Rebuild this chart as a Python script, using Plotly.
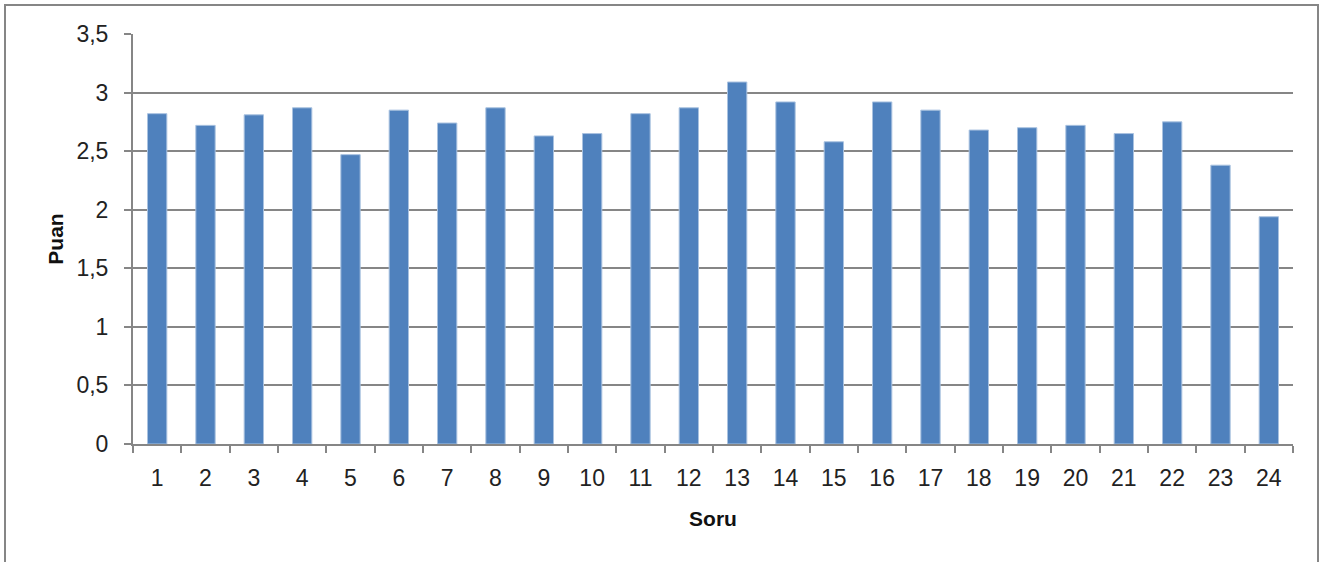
import plotly.graph_objects as go

# Ortalama puan per question (Soru 1..24)
sorular = [str(i) for i in range(1, 25)]
puanlar = [2.82, 2.72, 2.81, 2.87, 2.47, 2.85, 2.74, 2.87, 2.63, 2.65,
           2.82, 2.87, 3.09, 2.92, 2.58, 2.92, 2.85, 2.68, 2.70, 2.72,
           2.65, 2.75, 2.38, 1.94]
y_ticks = [0, 0.5, 1, 1.5, 2, 2.5, 3, 3.5]

GRID = "#868686"
FONT = "Liberation Sans"

fig = go.Figure(
    go.Bar(
        x=sorular,
        y=puanlar,
        marker=dict(color="#4F81BD", line=dict(color="#A9C2E0", width=1)),
    )
)

W, H = 1322, 562
L, R, T, B = 133, 29, 34, 118
pw, ph = W - L - R, H - T - B

fig.update_layout(
    width=W,
    height=H,
    margin=dict(l=L, r=R, t=T, b=B),
    paper_bgcolor="white",
    plot_bgcolor="white",
    separators=",.",
    bargap=0.6,
    showlegend=False,
    font=dict(family=FONT, size=23, color="#222222"),
    xaxis=dict(
        type="category",
        tickson="boundaries",
        ticks="outside",
        ticklen=7,
        tickwidth=2,
        tickcolor=GRID,
        showline=True,
        linecolor=GRID,
        linewidth=2,
        showgrid=False,
        ticklabelstandoff=12,
        title=dict(text="<b>Soru</b>", font=dict(size=21, color="#111111"), standoff=22),
    ),
    yaxis=dict(
        range=[0, 3.5],
        tickvals=y_ticks,
        ticks="outside",
        ticklen=7,
        tickwidth=2,
        tickcolor=GRID,
        showline=True,
        linecolor=GRID,
        linewidth=2,
        showgrid=True,
        gridcolor=GRID,
        gridwidth=2,
        zeroline=False,
        ticklabelstandoff=11,
        title=dict(text="<b>Puan</b>", font=dict(size=21, color="#111111"), standoff=7),
    ),
    shapes=[
        dict(
            type="rect",
            xref="paper",
            yref="paper",
            x0=(5 - L) / pw,
            x1=(1318 - L) / pw,
            y0=(H - B - 575) / ph,
            y1=(H - B - 5) / ph,
            line=dict(color=GRID, width=2),
            fillcolor="rgba(0,0,0,0)",
            layer="below",
        )
    ],
)

fig.write_html("out.html")
